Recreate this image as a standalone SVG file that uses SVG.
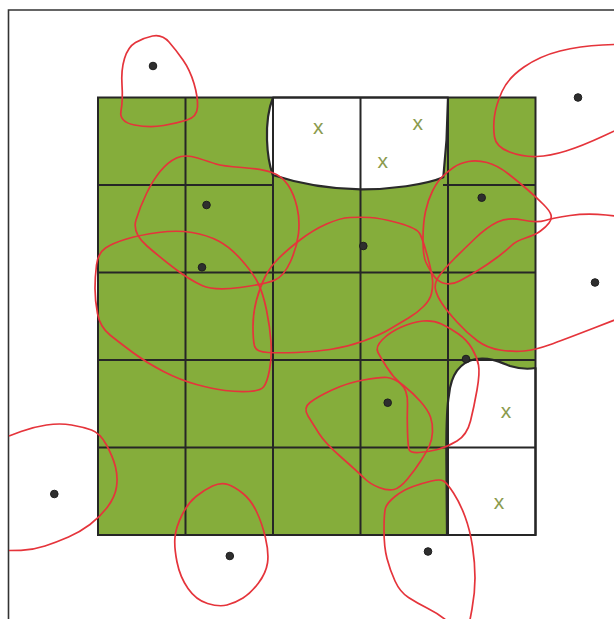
<svg xmlns="http://www.w3.org/2000/svg" width="614" height="619" viewBox="0 0 614 619">
<style>
.frame{stroke:#333;stroke-width:1.6;fill:none}
.grid{stroke:#262626;stroke-width:2;fill:none}
.hole{fill:#fff;stroke:#2a2a2a;stroke-width:2.2;stroke-linejoin:round}
.red{fill:none;stroke:#e5343b;stroke-width:1.7;stroke-linejoin:round}
.dot{fill:#2e2e2e;stroke:#1e1e1e;stroke-width:1}
.xm{font-family:"Liberation Sans",Arial,sans-serif;font-size:21px;fill:#8b9b4e;text-anchor:middle}
</style>
<rect width="614" height="619" fill="#fff"/>
<g id="frame">
<path class="frame" d="M8.5,619 L8.5,10 L614,10"/>
</g>
<g id="field">
<rect x="98" y="97.5" width="437.5" height="437.5" fill="#85ad3b"/>
<path id="hole-top" class="hole" d="M273,97.5 C268,110 266.5,125 267,140 C267.5,155 270,167 272.7,175 C300,184 330,189 360.5,189.3 C390,189.5 425,185 443.3,177.3 L446.5,140 L448,97.5 Z"/>
<path id="hole-right" class="hole" d="M447,535 L446.5,470 C446,430 447,405 449,395 C451,375 460,362 476,359 C490,357 500,362 510,366 C520,369 530,369 535.5,368 L535.5,535 Z"/>
</g>
<g id="grid">
<line class="grid" x1="185.5" y1="97.5" x2="185.5" y2="535"/>
<line class="grid" x1="273" y1="97.5" x2="273" y2="535"/>
<line class="grid" x1="360.5" y1="97.5" x2="360.5" y2="535"/>
<line class="grid" x1="448" y1="97.5" x2="448" y2="535"/>
<line class="grid" x1="98" y1="185" x2="273" y2="185"/>
<line class="grid" x1="443" y1="185" x2="535.5" y2="185"/>
<line class="grid" x1="98" y1="272.5" x2="535.5" y2="272.5"/>
<line class="grid" x1="98" y1="360" x2="535.5" y2="360"/>
<line class="grid" x1="98" y1="447.5" x2="535.5" y2="447.5"/>
<rect class="grid" x="98" y="97.5" width="437.5" height="437.5"/>
</g>
<g id="regions">
<path id="rA" class="red" d="M152.5,36 Q162,34 169,42 Q176,50 183,60 Q190,70 194,83.5 Q198,97 197.5,107 Q197,117 187,120 Q177,123 163.5,125.5 Q150,128 134.5,125 Q119,122 121,111 Q123,100 122,85 Q121,70 124.5,58.5 Q128,47 135.5,42.5 Q143,38 152.5,36 Z"/>
<path id="rB" class="red" d="M625,44 L602.5,45 Q580,46 560,51 Q540,56 524,67 Q508,78 502,91.5 Q496,105 494.5,116 Q493,127 494.5,137 Q496,147 509.5,152 Q523,157 536.5,156.5 Q550,156 566,151 Q582,146 603.5,136 L625,126"/>
<path id="rC" class="red" d="M176.5,158 Q185,154 197.5,158 Q210,162 216,164 Q222,166 242,167.5 Q262,169 272,172.5 Q282,176 288,185 Q294,194 297,207 Q300,220 298.5,233.5 Q297,247 290.5,261.5 Q284,276 275,280 Q266,284 240,287.5 Q214,291 202,285.5 Q190,280 176,269.5 Q162,259 147,246 Q132,233 136,220 Q140,207 146.5,193.5 Q153,180 160.5,171 Q168,162 176.5,158 Z"/>
<path id="rD" class="red" d="M158.5,232.5 Q177,230 192,232.5 Q207,235 218.5,241 Q230,247 241.5,260 Q253,273 258,283 Q263,293 266.5,310 Q270,327 271,342 Q272,357 269.5,370 Q267,383 263.5,387 Q260,391 248.5,391.5 Q237,392 225,390.5 Q213,389 196.5,384.5 Q180,380 163.5,371.5 Q147,363 133.5,353 Q120,343 110,335 Q100,327 97.5,313.5 Q95,300 95,288.5 Q95,277 96.5,265 Q98,253 105.5,248 Q113,243 126.5,239 Q140,235 158.5,232.5 Z"/>
<path id="rE" class="red" d="M350,217.5 Q360,217 370,217.5 Q380,218 398.5,223 Q417,228 420,234 Q423,240 427.5,256.5 Q432,273 432.5,280 Q433,287 431.5,293.5 Q430,300 423.5,306.5 Q417,313 408.5,318 Q400,323 390,329 Q380,335 363.5,341 Q347,347 330,349.5 Q313,352 296.5,352.5 Q280,353 268,352.5 Q256,352 254.5,346 Q253,340 253,326.5 Q253,313 256.5,300 Q260,287 265,277 Q270,267 278.5,258.5 Q287,250 300,240 Q313,230 326.5,224 Q340,218 350,217.5 Z"/>
<path id="rF" class="red" d="M442,177 Q447,172 453.5,167.5 Q460,163 468.5,161.5 Q477,160 487,162.5 Q497,165 508.5,174 Q520,183 528.5,190.5 Q537,198 543.5,204.5 Q550,211 551,215 Q552,219 549,223 Q546,227 540.5,231 Q535,235 525.5,238 Q516,241 511.5,245.5 Q507,250 497,257.5 Q487,265 477,271 Q467,277 459.5,281 Q452,285 445,283.5 Q438,282 433.5,275.5 Q429,269 426,262.5 Q423,256 423,239.5 Q423,223 425.5,211.5 Q428,200 432.5,191 Q437,182 442,177 Z"/>
<path id="rG" class="red" d="M625,217 L606,215 Q587,213 570,215.5 Q553,218 545,220.5 Q537,223 522.5,220 Q508,217 497.5,222 Q487,227 475,238.5 Q463,250 454,259 Q445,268 439.5,275.5 Q434,283 435.5,289.5 Q437,296 442,303.5 Q447,311 457,322 Q467,333 477,340.5 Q487,348 500,350 Q513,352 524,351 Q535,350 549,345 Q563,340 594,328 L625,316"/>
<path id="rH" class="red" d="M308,416 Q303,408 310,402.5 Q317,397 332,390 Q347,383 363.5,380 Q380,377 387,377.5 Q394,378 403.5,385.5 Q413,393 420.5,401.5 Q428,410 430.5,417 Q433,424 432.5,432 Q432,440 429.5,445.5 Q427,451 421,460.5 Q415,470 407.5,479 Q400,488 394,489.5 Q388,491 379,487.5 Q370,484 364,478 Q358,472 341.5,457.5 Q325,443 319,433.5 Q313,424 308,416 Z"/>
<path id="rL" class="red" d="M378,352.5 Q375,347 382.5,339.5 Q390,332 401.5,327 Q413,322 423,321 Q433,320 441.5,324 Q450,328 458.5,334 Q467,340 472,348.5 Q477,357 478.5,365 Q480,373 477,390 Q474,407 470.5,421 Q467,435 457,441 Q447,447 437.5,449.5 Q428,452 419,452.5 Q410,453 409,449.5 Q408,446 407.5,432 Q407,418 407.5,404 Q408,390 400.5,383.5 Q393,377 387,367.5 Q381,358 378,352.5 Z"/>
<path id="rI" class="red" d="M9,436 L21,431.5 Q33,427 46.5,425 Q60,423 71.5,425 Q83,427 91.5,430 Q100,433 106.5,445 Q113,457 115.5,467 Q118,477 116.5,487 Q115,497 107.5,507 Q100,517 90,524.5 Q80,532 68.5,537 Q57,542 45,546 Q33,550 21,550.3 L9,550.5"/>
<path id="rJ" class="red" d="M212.5,486 Q221,482 228,484.5 Q235,487 243,493.5 Q251,500 256.5,511.5 Q262,523 265.5,538 Q269,553 267.5,563 Q266,573 258.5,583 Q251,593 243,598 Q235,603 227,605 Q219,607 207.5,603.5 Q196,600 188,588.5 Q180,577 177,562 Q174,547 175,537 Q176,527 182,515 Q188,503 196,496.5 Q204,490 212.5,486 Z"/>
<path id="rK" class="red" d="M452,625 L444.5,619 Q437,613 427,608 Q417,603 408.5,597.5 Q400,592 395,581 Q390,570 387,558.5 Q384,547 384,530 Q384,513 385.5,508 Q387,503 395,496.5 Q403,490 413,486.5 Q423,483 431.5,481 Q440,479 443.5,481 Q447,483 453.5,493 Q460,503 465,516.5 Q470,530 472.5,546.5 Q475,563 475,578 Q475,593 472,609 L469,625"/>
</g>
<g id="sites">
<circle class="dot" cx="153" cy="66" r="3.8"/>
<circle class="dot" cx="578" cy="97.5" r="3.8"/>
<circle class="dot" cx="206.5" cy="205" r="3.8"/>
<circle class="dot" cx="202" cy="267.3" r="3.8"/>
<circle class="dot" cx="363.3" cy="246" r="3.8"/>
<circle class="dot" cx="481.7" cy="197.7" r="3.8"/>
<circle class="dot" cx="595" cy="282.5" r="3.8"/>
<circle class="dot" cx="466" cy="359" r="3.8"/>
<circle class="dot" cx="387.7" cy="402.7" r="3.8"/>
<circle class="dot" cx="54.3" cy="494" r="3.8"/>
<circle class="dot" cx="229.8" cy="556" r="3.8"/>
<circle class="dot" cx="428" cy="551.5" r="3.8"/>
</g>
<g id="marks">
<text class="xm" x="318.3" y="133.8">x</text>
<text class="xm" x="417.7" y="129.8">x</text>
<text class="xm" x="382.7" y="168.2">x</text>
<text class="xm" x="506" y="418.3">x</text>
<text class="xm" x="499" y="508.8">x</text>
</g>
</svg>
